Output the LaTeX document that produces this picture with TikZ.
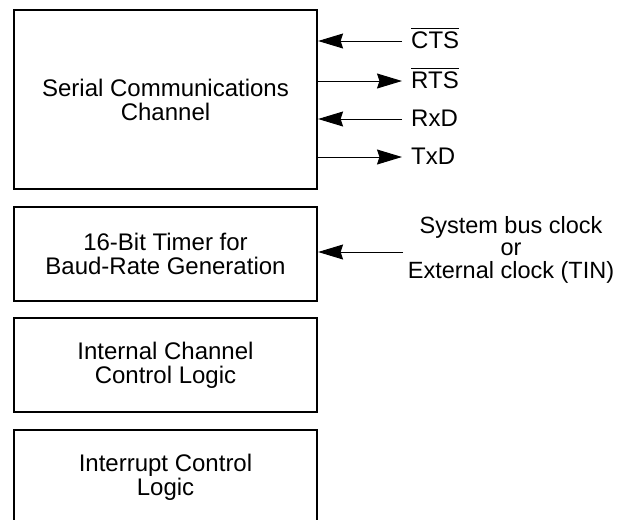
\documentclass[tikz,border=0pt]{standalone}
\usepackage{fontspec}
\setmainfont{Liberation Sans}
\usetikzlibrary{arrows.meta}
\newcommand\ovltxt[1]{\vbox{\hrule height 1pt\kern 2.6pt\hbox{#1}}}
\begin{document}
\begin{tikzpicture}[x=1pt,y=-1pt,
  blk/.style={draw,line width=2.2pt,minimum width=303pt,inner sep=0pt,align=center,
    font=\fontsize{24}{24}\selectfont},
  arr/.style={line width=1pt,-{Stealth[length=25pt,width=15pt,inset=2.5pt]}},
  lbl/.style={inner sep=0pt,font=\fontsize{24}{24}\selectfont}]
\useasboundingbox (0,0) rectangle (622,520);
\clip (0,0) rectangle (622,520);
\node[blk,minimum height=179pt] (scc) at (165.5,99.5) {Serial Communications\\Channel};
\node[blk,minimum height=94pt] (tmr) at (165.5,254) {16-Bit Timer for\\Baud-Rate Generation};
\node[blk,minimum height=94pt] (icc) at (165.5,365) {Internal Channel\\Control Logic};
\node[blk,minimum height=94pt] (irq) at (165.5,477) {Interrupt Control\\Logic};
% port signals
\coordinate (pcts) at (402,41);
\coordinate (prts) at (402,81);
\coordinate (prxd) at (402,119);
\coordinate (ptxd) at (402,157);
\node[lbl,anchor=base west] (lcts) at (411,48) {\ovltxt{CTS}};
\node[lbl,anchor=base west] (lrts) at (411,88) {\ovltxt{RTS}};
\node[lbl,anchor=base west] (lrxd) at (411,126) {RxD};
\node[lbl,anchor=base west] (ltxd) at (411,164) {TxD};
\draw[arr] (pcts) -- (pcts -| scc.east);
\draw[arr] (prts -| scc.east) -- (prts);
\draw[arr] (prxd) -- (prxd -| scc.east);
\draw[arr] (ptxd -| scc.east) -- (ptxd);
% clock
\node[lbl,align=center,font=\fontsize{23.5}{22.5}\selectfont] (clk) at (511,249.5) {System bus clock\\or\\External clock (TIN)};
\coordinate (pclk) at (403,252);
\draw[arr] (pclk) -- (pclk -| tmr.east);
\end{tikzpicture}
\end{document}
